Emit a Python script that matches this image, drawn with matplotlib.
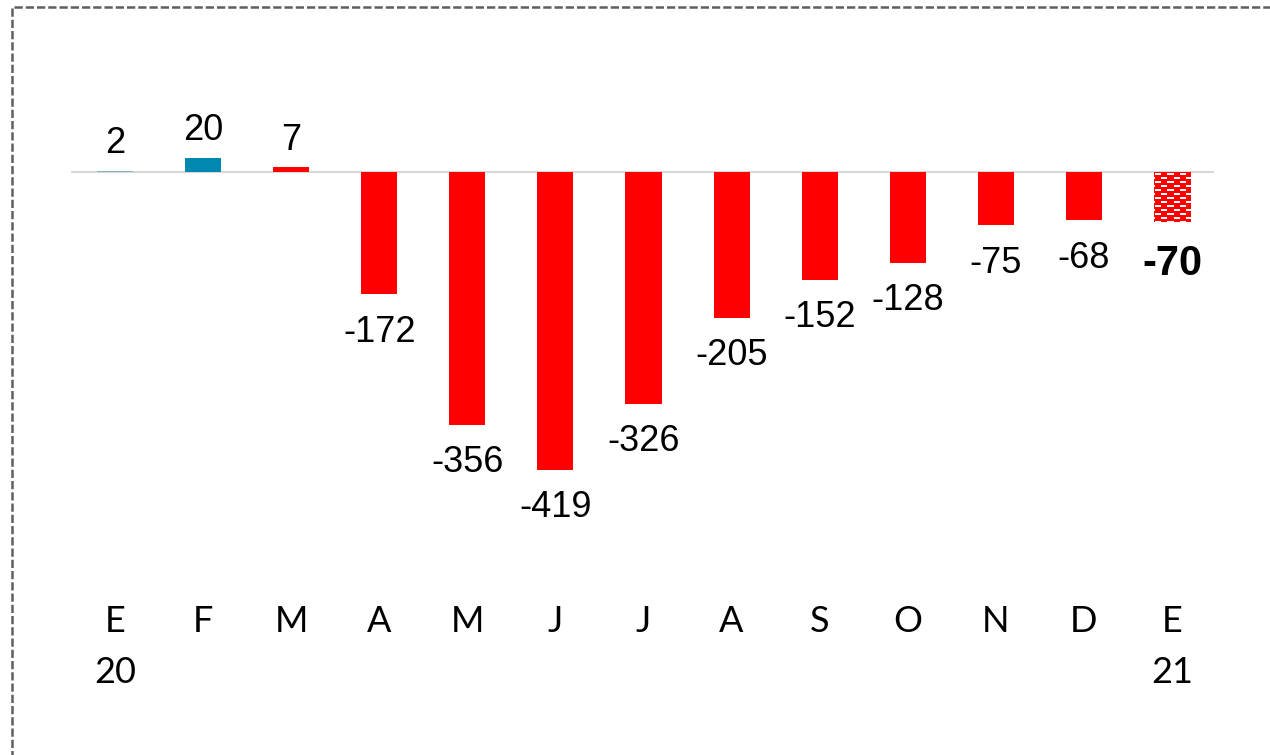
import numpy as np
import matplotlib
matplotlib.use("Agg")
import matplotlib.pyplot as plt
from matplotlib.patches import Rectangle
from matplotlib.transforms import blended_transform_factory

# data
months = ["E", "F", "M", "A", "M", "J", "J", "A", "S", "O", "N", "D", "E"]
years = ["20", "", "", "", "", "", "", "", "", "", "", "", "21"]
values = [2, 20, 7, -172, -356, -419, -326, -205, -152, -128, -75, -68, -70]
colors = ["#86b3c4", "#0088b0"] + ["#ff0000"] * 11

fig = plt.figure(figsize=(12.7, 7.55), dpi=100)
ax = fig.add_axes([71 / 1270, 1 - 600 / 755, 1143 / 1270, 500 / 755])

x = np.arange(len(values))
bars = ax.bar(x, values, width=0.41, color=colors, zorder=3)

ax.axhline(0, color="#d9d9d9", lw=1.6, zorder=2)

ax.set_xlim(-0.5, 12.477)
ax.set_ylim(-602, 101.3)
ax.axis("off")

# last bar: red with white brick pattern, one image pixel per screen pixel
last = bars[-1]
fig.canvas.draw()
bb = last.get_window_extent()
hpx, wpx = int(round(bb.height)), int(round(bb.width))
pat = np.ones((8, 12, 3))
pat[:, :, 1:] = 0
pat[1:3, 1:7, :] = 1
pat[5:7, 7:12, :] = 1
pat[5:7, 0:1, :] = 1
tile = np.tile(pat, (hpx // 8 + 1, wpx // 12 + 1, 1))[:hpx, :wpx]
im = ax.imshow(tile, extent=(last.get_x(), last.get_x() + last.get_width(),
                             last.get_y() + last.get_height(), last.get_y()),
               aspect="auto", interpolation="nearest", zorder=4)
im.set_clip_path(last)
ax.set_xlim(-0.5, 12.477)
ax.set_ylim(-602, 101.3)

# value labels
for i, v in enumerate(values):
    last_one = i == len(values) - 1
    if v >= 0:
        off = 12.5
    else:
        off = -38 if last_one else -34
    ax.annotate(str(v), xy=(i, v), xytext=(0, off), textcoords="offset points",
                ha="center", va="baseline",
                fontsize=30 if last_one else 26,
                fontweight="bold" if last_one else "normal",
                family="Liberation Sans", color="black")

# month / year labels
tr = blended_transform_factory(ax.transData, fig.transFigure)
for i, (m, yr) in enumerate(zip(months, years)):
    ax.text(i, 1 - 632 / 755, m, transform=tr, ha="center", va="baseline",
            fontsize=26, family="Lato", color="black")
    if yr:
        ax.text(i, 1 - 683 / 755, yr, transform=tr, ha="center", va="baseline",
                fontsize=26, family="Lato", color="black")

# dashed frame
frame = Rectangle((12 / 1270, -0.1), 1.2, 0.1 + 1 - 7 / 755, transform=fig.transFigure,
                  fill=False, edgecolor="#5f5f5f", lw=1.8,
                  linestyle=(0, (3.3, 1.2)), clip_on=False)
fig.patches.append(frame)

fig.savefig("out.png", dpi=100)
